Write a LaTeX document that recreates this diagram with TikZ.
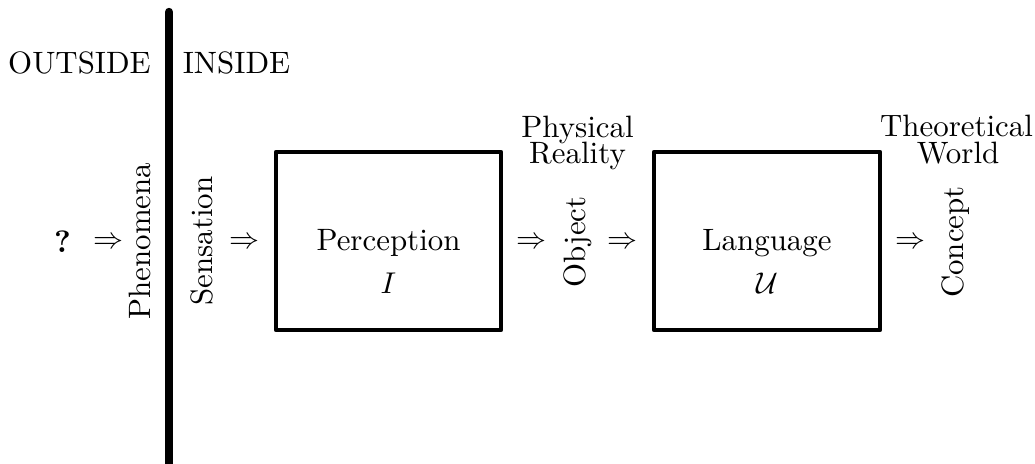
\documentclass[tikz,border=0pt]{standalone}
\begin{document}
\begin{tikzpicture}[x=0.3333pt,y=-0.3333pt,
  font=\fontsize{10.3}{12.4}\selectfont,
  lbl/.style={inner sep=0pt, anchor=base},
  vlbl/.style={inner sep=0pt, anchor=base, rotate=90},
  imp/.style={inner sep=0pt, anchor=base},
  procbox/.style={draw, line width=1.45pt, line join=round, inner sep=0pt, minimum width=75pt, minimum height=59.33pt},
  wall/.style={line width=2.8pt, line cap=round}]
\useasboundingbox (0,0) rectangle (1035,463);
% wall
\coordinate (wtop) at (169,12);
\coordinate (wbot) at (169,470);
\draw[wall] (wtop) -- (wbot);
% headings
\node[lbl] (outside) at (79.5,73) {OUTSIDE};
\node[lbl] (inside) at (236.5,73) {INSIDE};
% chain
\node[lbl] (q) at (62.5,252) {\textbf{?}};
\node[imp] (i1) at (108,248) {$\Rightarrow$};
\node[vlbl] (phen) at (150,241) {Phenomena};
\node[vlbl] (sens) at (212,241) {Sensation};
\node[imp] (i2) at (244,248) {$\Rightarrow$};
\node[procbox] (perc) at (388.5,241) {};
\node[lbl] (perct) at (388.5,250) {Perception};
\node[lbl] (percm) at (388.5,293) {$I$};
\node[imp] (i3) at (531.5,248) {$\Rightarrow$};
\node[vlbl] (obj) at (585,242) {Object};
\node[imp] (i4) at (622.5,248) {$\Rightarrow$};
\node[procbox, minimum width=75.33pt] (lang) at (767,241) {};
\node[lbl] (langt) at (767,250) {Language};
\node[lbl] (langm) at (767,293) {$\mathcal{U}$};
\node[imp] (i5) at (910,248) {$\Rightarrow$};
\node[vlbl] (conc) at (963,242) {Concept};
% region labels
\node[lbl] (phys1) at (577.5,137) {Physical};
\node[lbl] (phys2) at (577.5,163) {Reality};
\node[lbl] (theo1) at (956.5,136) {Theoretical};
\node[lbl] (theo2) at (958,163) {World};
\end{tikzpicture}
\end{document}
